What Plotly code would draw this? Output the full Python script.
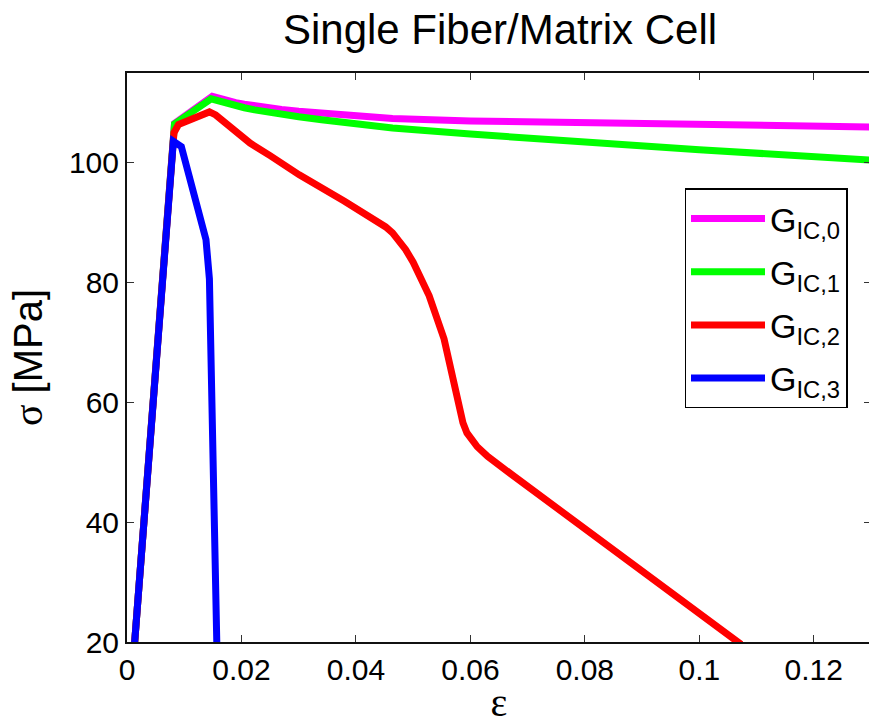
import plotly.graph_objects as go

# Stress-strain response of a single fiber/matrix cell for four fracture toughness levels
strain_g0 = [0.00102, 0.0083, 0.0149, 0.0162, 0.0175, 0.0190, 0.0205, 0.0223, 0.0243, 0.027, 0.030,
             0.034, 0.038, 0.0464, 0.060, 0.0824, 0.100, 0.130]
stress_g0 = [16.0, 106.6, 111.1, 110.7, 110.35, 110.05, 109.8, 109.5, 109.2, 108.9, 108.6,
             108.25, 107.95, 107.4, 107.0, 106.6, 106.3, 106.0]

strain_g1 = [0.00102, 0.0083, 0.0147, 0.0160, 0.0175, 0.0190, 0.0205, 0.0223, 0.0243, 0.027, 0.030,
             0.034, 0.038, 0.0464, 0.060, 0.0824, 0.100, 0.130]
stress_g1 = [16.0, 106.5, 110.7, 110.3, 109.9, 109.55, 109.2, 108.85, 108.5, 108.1, 107.7,
             107.2, 106.7, 105.8, 104.8, 103.3, 102.2, 100.45]

strain_g2 = [0.00102, 0.0082, 0.0090, 0.0144, 0.0155, 0.0165, 0.0185, 0.0215, 0.0250, 0.0301,
             0.0380, 0.0440, 0.0452, 0.0464, 0.0476, 0.0487, 0.0500, 0.0512, 0.0528, 0.0554,
             0.0571, 0.0580, 0.0587, 0.0594, 0.0602, 0.0612, 0.0630, 0.0673, 0.1073]
stress_g2 = [16.0, 105.0, 106.4, 108.5, 108.0, 107.2, 105.6, 103.3, 101.2, 98.0,
             93.6, 90.1, 89.3, 88.3, 87.0, 85.5, 83.4, 81.2, 77.8, 70.6,
             63.2, 59.2, 56.6, 54.9, 53.7, 52.6, 51.0, 47.9, 19.6]

strain_g3 = [0.00102, 0.0081, 0.0095, 0.0138, 0.0144, 0.01575]
stress_g3 = [16.0, 103.6, 102.7, 87.2, 80.6, 17.0]

series_names = ["G<sub>IC,0</sub>", "G<sub>IC,1</sub>", "G<sub>IC,2</sub>", "G<sub>IC,3</sub>"]
series_colors = ["#FF00FF", "#00FF00", "#FF0000", "#0000FF"]

x_ticks = [0, 0.02, 0.04, 0.06, 0.08, 0.1, 0.12]
x_tick_text = ["0", "0.02", "0.04", "0.06", "0.08", "0.1", "0.12"]
y_ticks = [20, 40, 60, 80, 100]

FONT = "Liberation Sans, Arial, Helvetica, sans-serif"
SYMBOL = "Liberation Serif, Times New Roman, serif"

fig = go.Figure()
all_x = [strain_g0, strain_g1, strain_g2, strain_g3]
all_y = [stress_g0, stress_g1, stress_g2, stress_g3]
for i in range(4):
    fig.add_trace(go.Scatter(
        x=all_x[i], y=all_y[i], mode="lines", name=series_names[i],
        legendgroup=f"g{i}", line=dict(color=series_colors[i], width=7),
    ))

# the axes box runs a few pixels past the right edge of the page
W, H = 880, 725
ML, MR, MT, MB = 127, 7, 73, 80
pw = W - ML - MR
ph = H - MT - MB

fig.update_layout(
    width=W, height=H,
    margin=dict(l=ML, r=MR, t=MT, b=MB, pad=0),
    paper_bgcolor="white", plot_bgcolor="white",
    font=dict(family=FONT, color="black"),
    title=dict(
        text="Single Fiber/Matrix Cell",
        font=dict(family=FONT, size=42, color="black"),
        x=(ML + pw / 2) / W, xanchor="center",
        y=1 - 29 / H, yanchor="middle", yref="container",
    ),
    xaxis=dict(
        range=[0, 0.13], tickvals=x_ticks, ticktext=x_tick_text,
        showline=True, linecolor="#111", linewidth=2, mirror="ticks",
        ticks="inside", ticklen=7, tickwidth=1, tickcolor="#333",
        showgrid=False, zeroline=False,
        tickfont=dict(family=FONT, size=30, color="black"),
        title=dict(text="ε", font=dict(family=SYMBOL, size=40, color="black"), standoff=4),
    ),
    yaxis=dict(
        range=[20, 115], tickvals=y_ticks,
        showline=True, linecolor="#111", linewidth=2, mirror="ticks",
        ticks="inside", ticklen=7, tickwidth=1, tickcolor="#333",
        showgrid=False, zeroline=False,
        tickfont=dict(family=FONT, size=30, color="black"),
        title=dict(text=f"<span style='font-family:{SYMBOL}'>σ</span> [MPa]",
                   font=dict(family=FONT, size=40, color="black"), standoff=14),
    ),
    legend=dict(
        x=(686 - ML) / pw, y=(645 - 189) / ph, xanchor="left", yanchor="top",
        bgcolor="white", bordercolor="black", borderwidth=1.5,
        font=dict(family=FONT, size=34, color="black"),
        itemwidth=74, tracegroupgap=6, traceorder="grouped",
    ),
)

fig.write_html(
    "out.html",
    post_script="document.documentElement.style.overflow='hidden';document.body.style.overflow='hidden';",
)
